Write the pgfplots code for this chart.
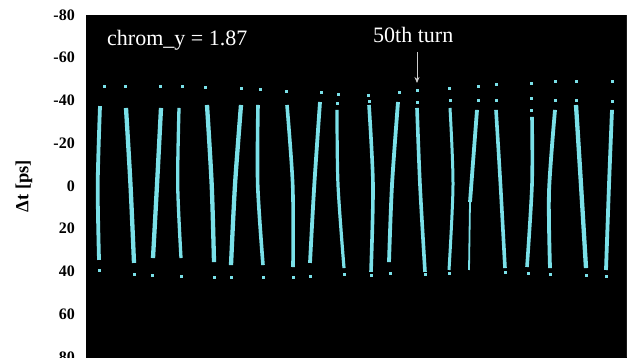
\documentclass[border=0pt]{standalone}
\usepackage{fontspec}
\setmainfont{Liberation Serif}
\usepackage{pgfplots}
\pgfplotsset{compat=1.18}
\usetikzlibrary{arrows.meta}
\definecolor{beam}{RGB}{122,224,232}
\definecolor{arrowgray}{RGB}{205,205,205}
\begin{document}
\begin{tikzpicture}
\begin{axis}[
  at={(86pt,343pt)}, anchor=north west,
  scale only axis, width=540pt, height=342pt,
  xmin=86, xmax=626,
  ymin=-80, ymax=80, y dir=reverse,
  ytick={-80,-60,-40,-20,0,20,40,60,80},
  xtick=\empty,
  major tick length=0pt,
  axis background/.style={fill=black},
  axis line style={black},
  /pgf/number format/assume math mode=true,
  yticklabel style={font=\fontsize{16}{19}\selectfont\bfseries, inner sep=0pt, xshift=-11pt},
  ylabel={Δt [ps]},
  every axis y label/.style={at={(axis description cs:-0.115,0.5)}, rotate=90, anchor=center, font=\fontsize{18.5}{22}\selectfont\bfseries},
  clip=true,
]
% streaks
\addplot[beam, line width=3.8pt, smooth] coordinates {(100,-37.4) (97.7,-0.5) (99,34.6)};
\addplot[beam, line width=4.3pt, smooth] coordinates {(126,-36.5) (130.5,-0.5) (134,36.0)};
\addplot[beam, line width=4.3pt, smooth] coordinates {(161,-36.5) (157,-0.5) (153,33.7)};
\addplot[beam, line width=3.3pt, smooth] coordinates {(179,-36.5) (177.7,-0.5) (181,33.7)};
\addplot[beam, line width=4.3pt, smooth] coordinates {(207,-37.9) (211.7,-0.5) (214,35.6)};
\addplot[beam, line width=4.3pt, smooth] coordinates {(241,-37.9) (235,-0.5) (231,37.0)};
\addplot[beam, line width=3.6pt, smooth] coordinates {(258,-37.9) (257.7,-0.5) (263,37.0)};
\addplot[beam, line width=3.6pt, smooth] coordinates {(287,-37.9) (292.7,-0.5) (293,37.9)};
\addplot[beam, line width=3.8pt, smooth] coordinates {(320,-39.3) (314.3,-0.5) (310,36.0)};
\addplot[beam, line width=3.2pt, smooth] coordinates {(337,-35.6) (338,-0.5) (344,38.4)};
\addplot[beam, line width=3.6pt, smooth] coordinates {(369,-37.9) (373,-0.5) (371,40.2)};
\addplot[beam, line width=3.8pt, smooth] coordinates {(398,-39.3) (392,-0.5) (389,35.6)};
\addplot[beam, line width=3.6pt, smooth] coordinates {(417,-36.5) (420,-0.5) (425,40.2)};
\addplot[beam, line width=3pt, smooth] coordinates {(450,-36.5) (453,-0.5) (449,39.3)};
\addplot[beam, line width=3.8pt] coordinates {(477,-35.6) (470,7.5)};
\addplot[beam, line width=1.8pt] coordinates {(470,7.5) (469,39.3)};
\addplot[beam, line width=3.6pt, smooth] coordinates {(496,-35.6) (500.5,-0.5) (505,38.4)};
\addplot[beam, line width=3.6pt, smooth] coordinates {(532,-32.3) (532,-0.5) (527,37.9)};
\addplot[beam, line width=3.8pt, smooth] coordinates {(555,-35.6) (549,2.8) (550,38.4)};
\addplot[beam, line width=4.3pt, smooth] coordinates {(576,-37.9) (581,-0.5) (586,38.4)};
\addplot[beam, line width=3.8pt, smooth] coordinates {(612,-35.6) (609,-0.5) (606,39.3)};
% dots
\addplot[only marks, mark=square*, mark size=1.1pt, beam] coordinates {
(104,-46.8) (125,-46.8) (160,-46.8) (182,-46.8) (205,-46.3) (241,-45.8) (260,-45.4) (286,-44.4)
(321,-44.0) (338,-43.0) (368,-42.6) (399,-44.0) (417,-44.9) (449,-45.8) (478,-46.8) (496,-47.7)
(531,-48.2) (555,-49.1) (576,-49.1) (612,-49.1)
(337,-38.8) (369,-39.8) (417,-39.3) (450,-40.2) (478,-40.2) (496,-40.2) (531,-41.2) (531,-35.6)
(555,-40.2) (576,-40.2) (612,-39.8)
(99,39.3) (134,41.2) (152,41.6) (181,42.1) (214,42.6) (231,42.6) (263,42.6) (293,42.6)
(310,42.1) (344,41.2) (371,41.6) (390,40.7) (425,41.2) (449,40.7) (505,40.2) (528,40.7)
(550,41.2) (586,41.6) (606,42.1)
};
% annotations
\node[anchor=base west, text=white, inner sep=0pt, font=\fontsize{22}{26}\selectfont] at (axis cs:107,-65.5) {chrom\_y = 1.87};
\node[anchor=base west, text=white, inner sep=0pt, font=\fontsize{22}{26}\selectfont] at (axis cs:373,-66.9) {50th turn};
\draw[arrowgray, line width=0.8pt, -{Stealth[length=6pt, width=5pt, fill=white]}] (axis cs:417,-62.7) -- (axis cs:417,-48.2);
\draw[gray!35, line width=1.5pt] ([xshift=0.75pt]rel axis cs:1,0) -- ([xshift=0.75pt]rel axis cs:1,1);
\end{axis}
\pgfresetboundingbox
\useasboundingbox (0,0) rectangle (628pt,358pt);
\end{tikzpicture}
\end{document}
